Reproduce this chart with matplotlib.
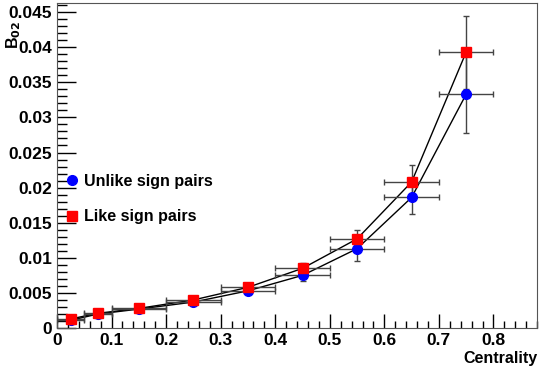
import numpy as np
import matplotlib as mlp
mlp.use("Agg")
import matplotlib.pyplot as plt
from matplotlib.ticker import MultipleLocator

plt.rcParams['font.family'] = ['Liberation Sans', 'DejaVu Sans']
plt.rcParams['font.weight'] = 'bold'

# centrality bins
cent = [0.025, 0.075, 0.15, 0.25, 0.35, 0.45, 0.55, 0.65, 0.75]
cent_err = [0.025, 0.025, 0.05, 0.05, 0.05, 0.05, 0.05, 0.05, 0.05]

# unlike sign pairs
b02_unlike = [0.0011, 0.0020, 0.0027, 0.0037, 0.0053, 0.0075, 0.0113, 0.0186, 0.0333]
err_unlike = [0.0002, 0.0002, 0.0002, 0.0003, 0.0005, 0.0008, 0.0017, 0.0023, 0.0055]

# like sign pairs
b02_like = [0.0013, 0.0021, 0.0028, 0.0040, 0.0058, 0.0085, 0.0127, 0.0208, 0.0393]
err_like = [0.0002, 0.0002, 0.0002, 0.0003, 0.0005, 0.0008, 0.0013, 0.0024, 0.0052]

fig = plt.figure(figsize=(5.4, 3.69), dpi=100)
ax = fig.add_axes([0.1056, 0.111, 0.889, 0.881])

ax.plot(cent, b02_unlike, color='black', lw=1, zorder=2)
ax.plot(cent, b02_like, color='black', lw=1, zorder=2)
ax.errorbar(cent, b02_unlike, xerr=cent_err, yerr=err_unlike, fmt='none',
            ecolor='#444444', elinewidth=1, capsize=2, zorder=3)
ax.errorbar(cent, b02_like, xerr=cent_err, yerr=err_like, fmt='none',
            ecolor='#444444', elinewidth=1, capsize=2, zorder=3)
ax.plot(cent, b02_unlike, 'o', color='blue', ms=7, ls='none', zorder=4,
        label='Unlike sign pairs')
ax.plot(cent, b02_like, 's', color='red', ms=7, ls='none', zorder=5,
        label='Like sign pairs')

ax.set_xlim(0, 0.88)
ax.set_ylim(0, 0.0463)
ax.xaxis.set_minor_locator(MultipleLocator(0.02))
ax.yaxis.set_minor_locator(MultipleLocator(0.001))
ax.tick_params(which='both', direction='in', top=False, right=False,
               labelsize=12.5)
ax.tick_params(axis='y', which='major', length=14, width=1)
ax.tick_params(axis='y', which='minor', length=7, width=1)
ax.tick_params(axis='x', which='major', length=10, width=1)
ax.tick_params(axis='x', which='minor', length=5, width=1)
ax.set_xticks(np.arange(0, 0.81, 0.1))
ax.set_xticklabels(['0', '0.1', '0.2', '0.3', '0.4', '0.5', '0.6', '0.7', '0.8'])
ax.set_yticks(np.arange(0, 0.0451, 0.005))
ax.set_yticklabels(['0', '0.005', '0.01', '0.015', '0.02', '0.025', '0.03',
                    '0.035', '0.04', '0.045'])
for s in ax.spines.values():
    s.set_color('#555555')

fig.text(0.995, 0.008, 'Centrality', ha='right', va='bottom', fontsize=11.5,
         fontweight='bold')
fig.text(0.008, 0.945, r'B$_{\mathbf{02}}$', ha='left', va='top', rotation=90,
         fontsize=11.5, fontweight='bold')

ax.legend(loc='upper left', bbox_to_anchor=(0.005, 0.495), frameon=False,
          fontsize=11.5, handlelength=0.8, handletextpad=0.35, labelspacing=1.3,
          borderaxespad=0)

plt.savefig("out.png", dpi=100)
